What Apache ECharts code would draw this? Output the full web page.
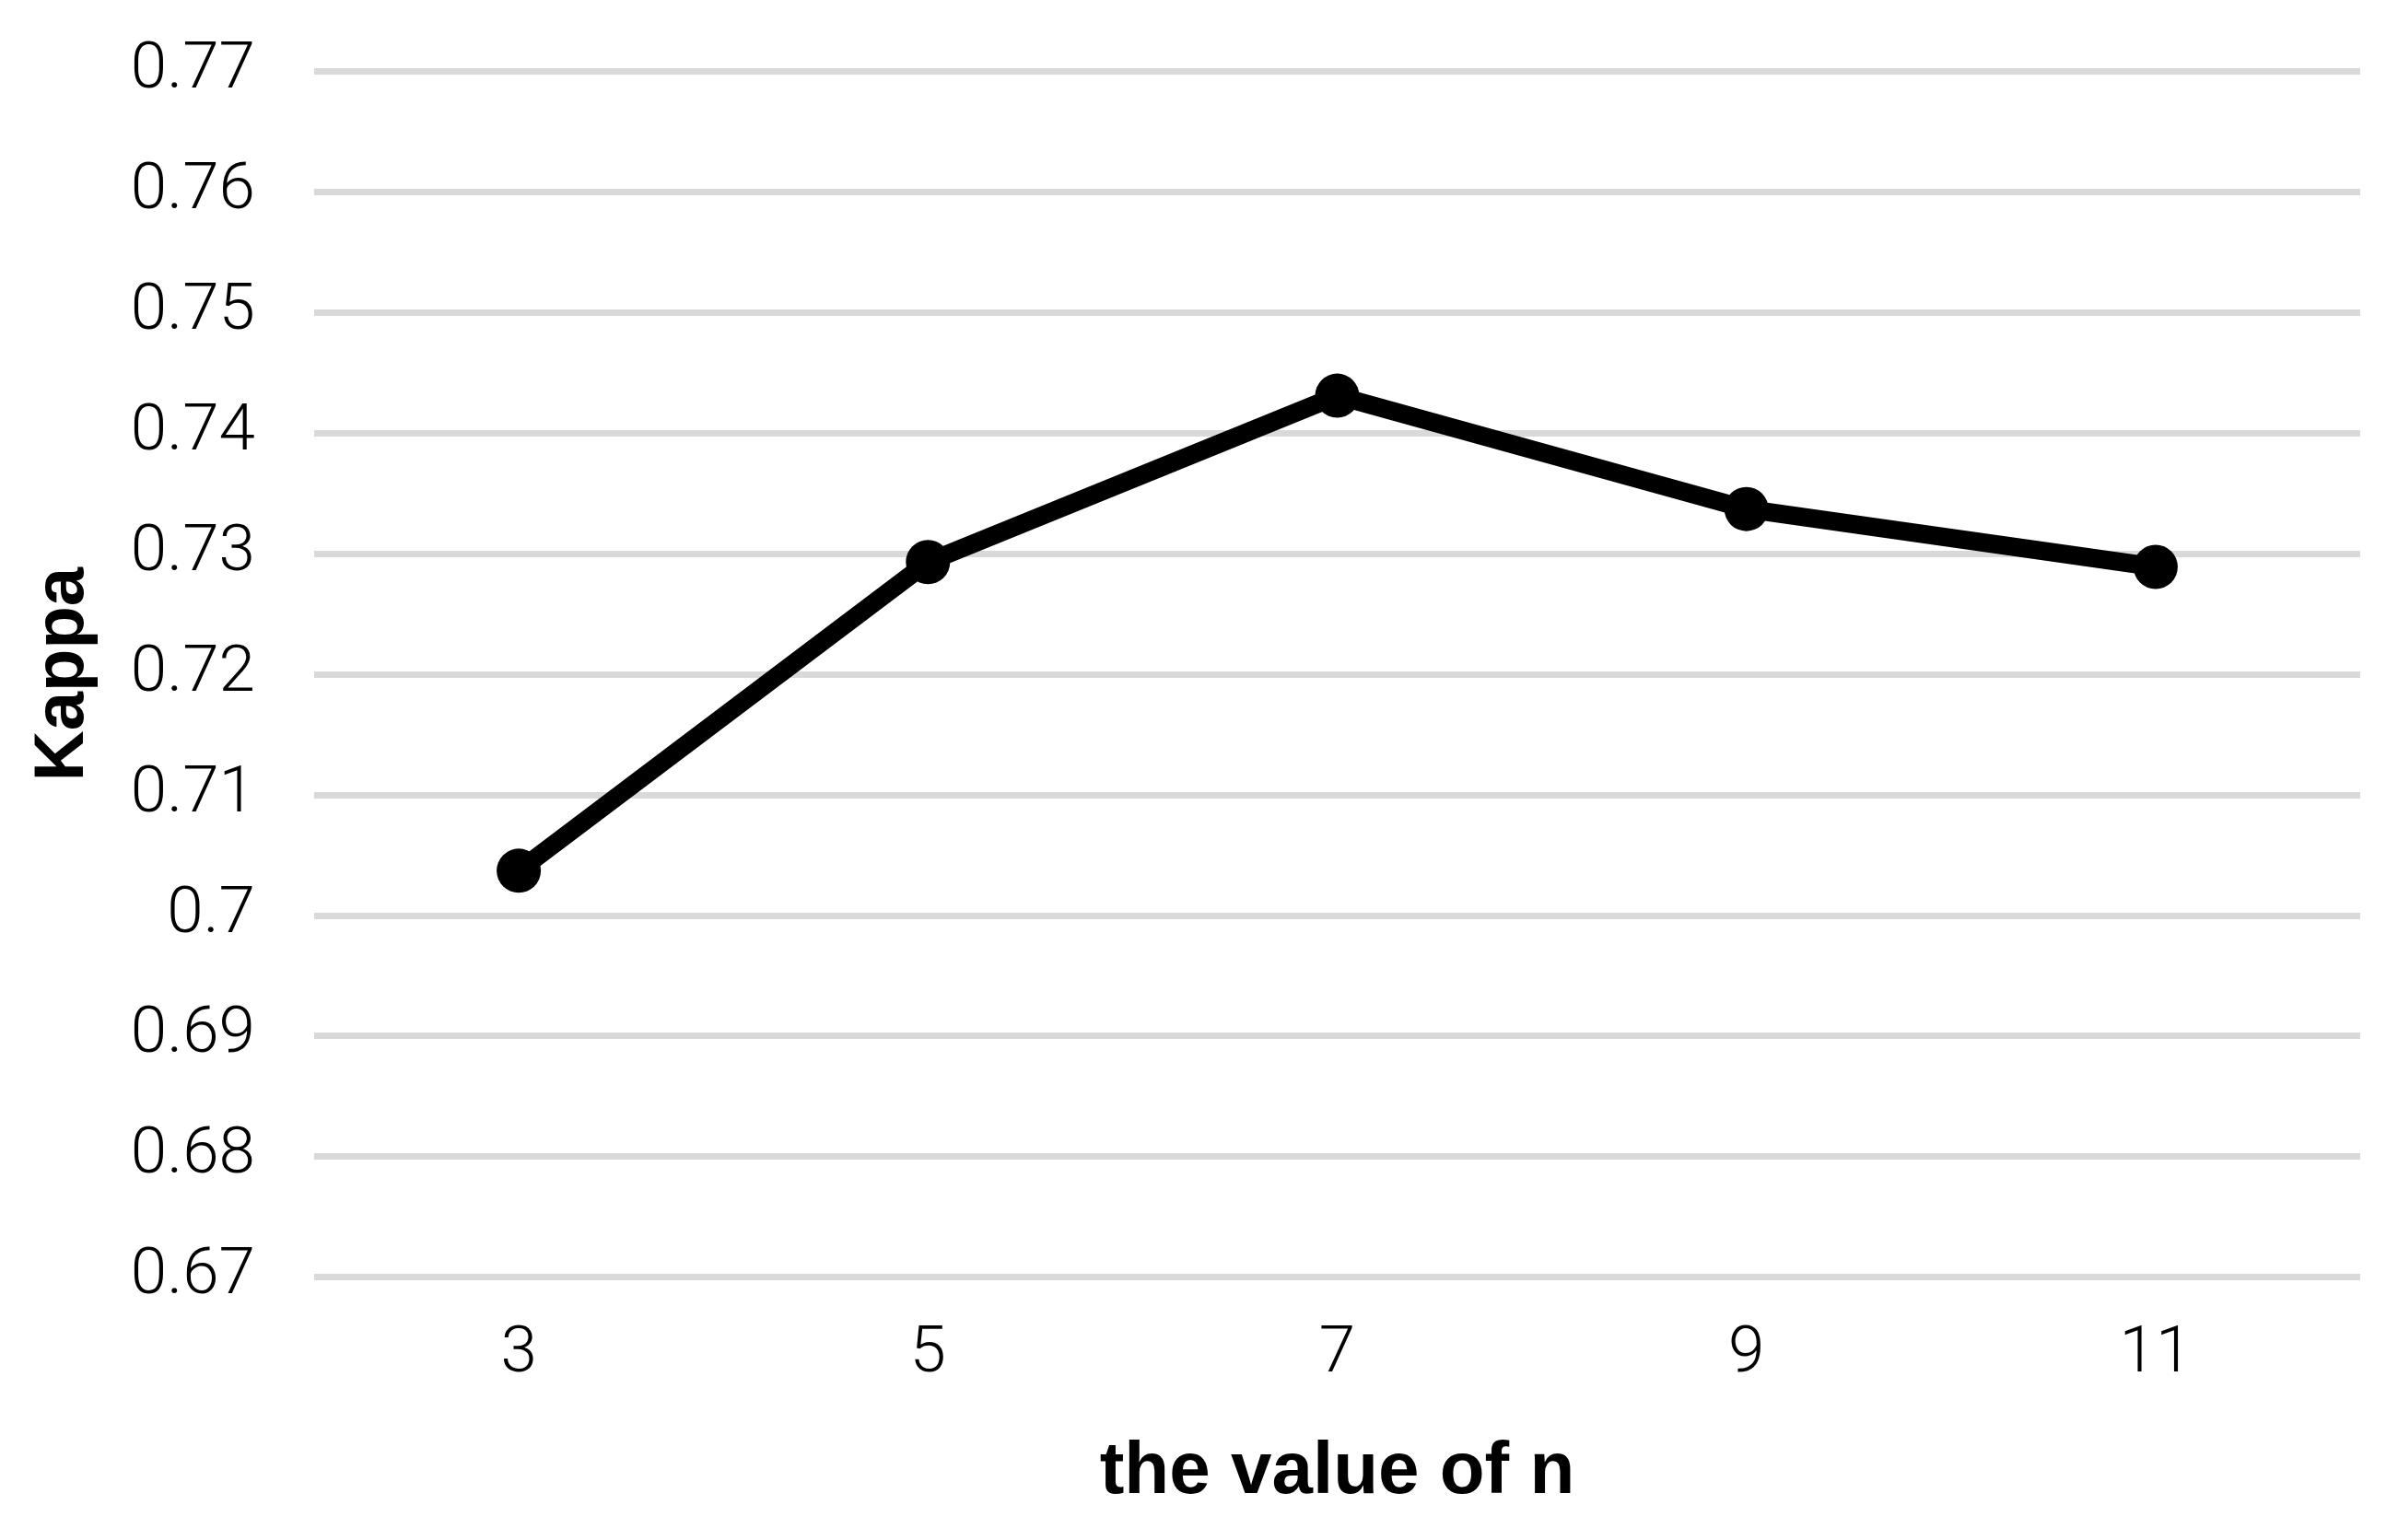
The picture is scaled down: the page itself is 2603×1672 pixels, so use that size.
<!DOCTYPE html>
<html>
<head>
<meta charset="utf-8">
<script src="https://cdn.jsdelivr.net/npm/echarts@6/dist/echarts.min.js"></script>
<style>
html,body{margin:0;padding:0;background:#fff;}
#chart{width:2603px;height:1672px;}
</style>
</head>
<body>
<div id="chart"></div>
<script>
const categories = ['3', '5', '7', '9', '11'];
const kappaValues = [0.7037, 0.7293, 0.7431, 0.7337, 0.7289];
const xAxisTitle = 'the value of n';
const yAxisTitle = 'Kappa';

const chart = echarts.init(document.getElementById('chart'));
chart.setOption({
  backgroundColor: '#ffffff',
  animation: false,
  grid: { left: 341, right: 41, top: 77.5, bottom: 285.5, containLabel: false },
  xAxis: {
    type: 'category',
    data: categories,
    boundaryGap: true,
    axisLine: { show: false },
    axisTick: { show: false },
    axisLabel: { margin: 49, fontSize: 71, color: '#000', fontFamily: 'Roboto', fontWeight: 300 },
    name: xAxisTitle,
    nameLocation: 'middle',
    nameGap: 172,
    nameTextStyle: { fontSize: 80, fontWeight: 'bold', color: '#000', fontFamily: 'Liberation Sans' }
  },
  yAxis: {
    type: 'value',
    min: 0.67,
    max: 0.77,
    interval: 0.01,
    axisLine: { show: false },
    axisTick: { show: false },
    splitLine: { show: true, lineStyle: { color: '#D9D9D9', width: 7 } },
    axisLabel: {
      margin: 64, fontSize: 71, color: '#000', fontFamily: 'Roboto', fontWeight: 300,
      formatter: function (v) { return String(parseFloat(v.toFixed(2))); }
    },
    name: yAxisTitle,
    nameLocation: 'middle',
    nameGap: 234,
    nameTextStyle: { fontSize: 76, fontWeight: 'bold', color: '#000', fontFamily: 'Liberation Sans' }
  },
  series: [{
    type: 'line',
    data: kappaValues,
    symbol: 'circle',
    symbolSize: 48,
    lineStyle: { color: '#000', width: 20 },
    itemStyle: { color: '#000' }
  }]
});
</script>
</body>
</html>
